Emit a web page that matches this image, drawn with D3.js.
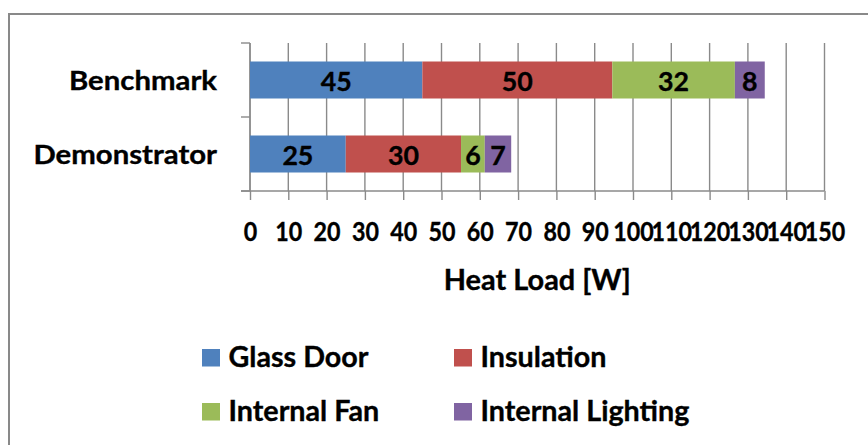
<!DOCTYPE html>
<html>
<head>
<meta charset="utf-8">
<script src="https://cdn.jsdelivr.net/npm/d3@7/dist/d3.min.js"></script>
<style>
  html, body { margin: 0; padding: 0; background: #fff; }
  svg { display: block; }
  text { font-family: Lato, "Open Sans", "Liberation Sans", sans-serif; font-weight: 700; fill: #000; stroke: #000; stroke-width: 0.35px; }
</style>
</head>
<body>
<svg id="chart" width="868" height="445"></svg>
<script>
// ---- data ----
const categories = ["Benchmark", "Demonstrator"];
const seriesNames = ["Glass Door", "Insulation", "Internal Fan", "Internal Lighting"];
const glassDoor = [45, 25];
const insulation = [49.6, 30.1];
const internalFan = [32, 6.2];
const internalLighting = [7.8, 6.9];
const xTicks = [0, 10, 20, 30, 40, 50, 60, 70, 80, 90, 100, 110, 120, 130, 140, 150];
const xTitle = "Heat Load [W]";
const colors = ["#4F81BD", "#C0504D", "#9BBB59", "#8064A2"];

// ---- build table ----
const seriesValues = [glassDoor, insulation, internalFan, internalLighting];
const table = categories.map((c, i) => {
  const row = { category: c };
  seriesNames.forEach((s, j) => row[s] = seriesValues[j][i]);
  return row;
});
const stacked = d3.stack().keys(seriesNames)(table);

const svg = d3.select("#chart");

// text styling helper: font size from cap height, horizontal squeeze from a sample width
const CAP = 0.72;
function widthFactor(sample, fs, target) {
  const t = svg.append("text").attr("font-size", fs).text(sample);
  const w = t.node().getComputedTextLength();
  t.remove();
  return target / w;
}
function styleText(sel, capH, sample, target) {
  const fs = capH / CAP;
  const f = widthFactor(sample, fs, target);
  sel.attr("font-size", fs).style("font-size", fs + "px");
  sel.each(function () {
    const w = this.getComputedTextLength();
    d3.select(this).attr("textLength", w * f).attr("lengthAdjust", "spacingAndGlyphs");
  });
}

// ---- outer border ----
svg.append("rect")
  .attr("x", 9).attr("y", 14).attr("width", 1000).attr("height", 600)
  .attr("fill", "none").attr("stroke", "#898989").attr("stroke-width", 2);

// ---- scales ----
const plotTop = 43, plotBottom = 191, plotLeft = 250, plotRight = 824.5;
const x = d3.scaleLinear().domain([0, 150]).range([plotLeft, plotRight]);
const y = d3.scaleBand().domain(categories).range([plotTop, plotBottom])
  .paddingInner(0.5).paddingOuter(0.25);

const gridColor = "#8a8a8a";

// vertical gridlines
svg.append("g").selectAll("line").data(xTicks).join("line")
  .attr("x1", d => x(d)).attr("x2", d => x(d))
  .attr("y1", plotTop).attr("y2", plotBottom)
  .attr("stroke", gridColor).attr("stroke-width", 1.4);

// bottom axis (ticks outward)
const xAxis = d3.axisBottom(x).tickValues(xTicks).tickSize(9).tickSizeOuter(0).tickFormat(d3.format("d"));
const gx = svg.append("g").attr("transform", `translate(0,${plotBottom})`).call(xAxis);
gx.attr("font-family", null).attr("font-size", null);
gx.select(".domain").attr("stroke", gridColor).attr("stroke-width", 1.4)
  .attr("d", `M${plotLeft - 9},0H${plotRight}`);
gx.selectAll(".tick line").attr("stroke", gridColor).attr("stroke-width", 1.4);
const tickTexts = gx.selectAll(".tick text")
  .attr("y", 50).attr("dy", null)
  .attr("fill", "#000");
styleText(tickTexts, 19.3, "10", 27);

// left axis: line + ticks at category boundaries
const boundaries = d3.range(categories.length + 1).map(i => plotTop + i * (plotBottom - plotTop) / categories.length);
svg.append("line")
  .attr("x1", plotLeft).attr("x2", plotLeft).attr("y1", plotTop).attr("y2", plotBottom)
  .attr("stroke", gridColor).attr("stroke-width", 1.4);
svg.append("g").selectAll("line").data(boundaries).join("line")
  .attr("x1", plotLeft - 9).attr("x2", plotLeft)
  .attr("y1", d => d).attr("y2", d => d)
  .attr("stroke", gridColor).attr("stroke-width", 1.4);

// category labels
const catTexts = svg.append("g").selectAll("text").data(categories).join("text")
  .attr("x", 217)
  .attr("y", d => y(d) + y.bandwidth() / 2 + 9.6)
  .attr("text-anchor", "end")
  .text(d => d);
styleText(catTexts, 19.3, "Benchmark", 148);

// bars
const fmt = d3.format(".0f");
stacked.forEach((layer, j) => {
  const g = svg.append("g");
  g.selectAll("rect").data(layer).join("rect")
    .attr("x", d => x(d[0]))
    .attr("y", d => y(d.data.category))
    .attr("width", d => x(d[1]) - x(d[0]))
    .attr("height", y.bandwidth())
    .attr("fill", colors[j]);
  const dt = g.selectAll("text").data(layer).join("text")
    .attr("x", d => (x(d[0]) + x(d[1])) / 2)
    .attr("y", d => y(d.data.category) + y.bandwidth() / 2 + 10.5)
    .attr("text-anchor", "middle")
    .text(d => fmt(d[1] - d[0]));
  styleText(dt, 19.3, "45", 31);
});

// axis title
const title = svg.append("text")
  .attr("x", (plotLeft + plotRight) / 2)
  .attr("y", 289.5)
  .attr("text-anchor", "middle")
  .text(xTitle);
styleText(title, 20, xTitle, 187);

// legend
const legendX0 = 202, legendColW = 252, legendY0 = 349, legendRowH = 54, sw = 18;
const lg = svg.append("g").selectAll("g").data(seriesNames).join("g")
  .attr("transform", (d, i) => `translate(${legendX0 + (i % 2) * legendColW},${legendY0 + Math.floor(i / 2) * legendRowH})`);
lg.append("rect").attr("width", sw).attr("height", sw - 0.5).attr("fill", (d, i) => colors[i]);
const lt = lg.append("text").attr("x", 26.5).attr("y", 17.7).text(d => d);
styleText(lt, 20, "Glass Door", 140);
</script>
</body>
</html>
